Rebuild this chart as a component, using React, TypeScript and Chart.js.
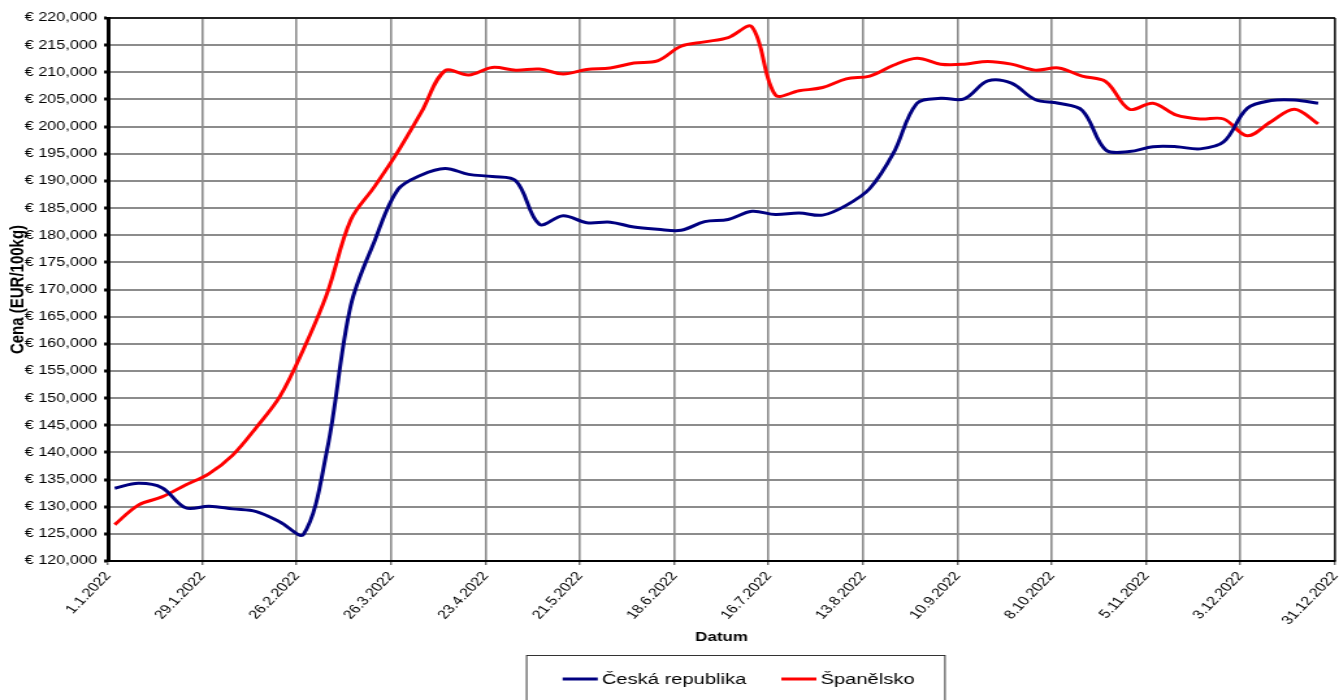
import React, { useEffect, useRef } from 'react';
import { Chart, registerables } from 'chart.js';

Chart.register(...registerables);

// Weekly dates (Mondays) of the observations
const weekDates = [
  '3.1.2022', '10.1.2022', '17.1.2022', '24.1.2022', '31.1.2022',
  '7.2.2022', '14.2.2022', '21.2.2022', '28.2.2022',
  '7.3.2022', '14.3.2022', '21.3.2022', '28.3.2022',
  '4.4.2022', '11.4.2022', '18.4.2022', '25.4.2022',
  '2.5.2022', '9.5.2022', '16.5.2022', '23.5.2022', '30.5.2022',
  '6.6.2022', '13.6.2022', '20.6.2022', '27.6.2022',
  '4.7.2022', '11.7.2022', '18.7.2022', '25.7.2022',
  '1.8.2022', '8.8.2022', '15.8.2022', '22.8.2022', '29.8.2022',
  '5.9.2022', '12.9.2022', '19.9.2022', '26.9.2022',
  '3.10.2022', '10.10.2022', '17.10.2022', '24.10.2022', '31.10.2022',
  '7.11.2022', '14.11.2022', '21.11.2022', '28.11.2022',
  '5.12.2022', '12.12.2022', '19.12.2022', '26.12.2022',
];

// Česká republika (EUR/100kg)
const czValues = [
  133400, 134300, 133500, 129800, 130100, 129600, 129100, 127200, 124900,
  140500, 167000, 178800, 188400, 191100, 192300, 191200, 190800, 190000,
  182000, 183600, 182300, 182400, 181500, 181100, 180900, 182500, 182900,
  184400, 183800, 184100, 183700, 185500, 188600, 195100, 204300, 205200,
  205100, 208400, 208000, 205000, 204300, 203000, 195700, 195400, 196300,
  196300, 195900, 197200, 203400, 204800, 204900, 204300,
];

// Španělsko (EUR/100kg)
const esValues = [
  126700, 130300, 131800, 134000, 136100, 139500, 144600, 150300, 159000,
  169300, 182800, 188900, 195400, 202700, 210300, 209500, 210900, 210400,
  210600, 209700, 210500, 210800, 211700, 212100, 214800, 215600, 216400,
  218400, 205800, 206600, 207200, 208800, 209300, 211300, 212600, 211500,
  211500, 212000, 211500, 210400, 210800, 209300, 208300, 203200, 204300,
  202100, 201400, 201400, 198300, 200900, 203200, 200500,
];

const seriesLabels = ['Česká republika', 'Španělsko'];
const seriesColors = ['#000080', '#ff0000'];

const xTickLabels = [
  '1.1.2022', '29.1.2022', '26.2.2022', '26.3.2022', '23.4.2022', '21.5.2022',
  '18.6.2022', '16.7.2022', '13.8.2022', '10.9.2022', '8.10.2022', '5.11.2022',
  '3.12.2022', '31.12.2022',
];
const xTickStepDays = 28;

const yMin = 120000;
const yMax = 220000;
const yStep = 5000;

const xTitle = 'Datum';
const yTitle = 'Cena (EUR/100kg)';

const FONT = '"Liberation Sans", Arial, sans-serif';
const CANVAS_W = 1030;
const CANVAS_H = 700;
const STRETCH = 1339 / CANVAS_W;

function dayOfYear(s: string): number {
  const [d, m, y] = s.split('.').map(Number);
  return Math.round((Date.UTC(y, m - 1, d) - Date.UTC(y, 0, 1)) / 86400000);
}

const framePlugin = {
  id: 'frameLines',
  afterDatasetsDraw(chart: any) {
    const { ctx, chartArea } = chart;
    const { left, top, right, bottom } = chartArea;
    ctx.save();
    ctx.strokeStyle = '#000';
    ctx.lineWidth = 1.5;
    ctx.beginPath();
    ctx.moveTo(left, top);
    ctx.lineTo(right, top);
    ctx.stroke();
    ctx.lineWidth = 1.2;
    ctx.beginPath();
    ctx.moveTo(right, top);
    ctx.lineTo(right, bottom);
    ctx.stroke();
    ctx.restore();
  },
};

const boxLegendPlugin = {
  id: 'boxLegend',
  afterDraw(chart: any) {
    const ctx = chart.ctx;
    ctx.save();
    ctx.font = `15.5px ${FONT}`;
    const lineLen = 27;
    const gapText = 3.1;
    const gapItem = 27;
    const padL = 27.7;
    const padR = 23.4;
    const items = chart.data.datasets.map((ds: any) => ({
      text: ds.label as string,
      color: ds.borderColor as string,
      w: ctx.measureText(ds.label).width,
    }));
    let total = 0;
    items.forEach((it: any, i: number) => {
      total += (i > 0 ? gapItem : 0) + lineLen + gapText + it.w;
    });
    const centerX = 566;
    const boxLeft = centerX - (total + padL + padR) / 2;
    const boxRight = boxLeft + total + padL + padR;
    const boxTop = 655.5;
    const midY = 679;

    ctx.strokeStyle = '#333';
    ctx.lineWidth = 1;
    ctx.strokeRect(boxLeft, boxTop, boxRight - boxLeft, 60);

    let x = boxLeft + padL;
    items.forEach((it: any, i: number) => {
      if (i > 0) x += gapItem;
      ctx.strokeStyle = it.color;
      ctx.lineWidth = 3;
      ctx.beginPath();
      ctx.moveTo(x, midY);
      ctx.lineTo(x + lineLen, midY);
      ctx.stroke();
      x += lineLen + gapText;
      ctx.fillStyle = '#000';
      ctx.textAlign = 'left';
      ctx.textBaseline = 'middle';
      ctx.fillText(it.text, x, midY + 1);
      x += it.w;
    });
    ctx.restore();
  },
};

export default function App() {
  const canvasRef = useRef<HTMLCanvasElement | null>(null);

  useEffect(() => {
    const canvas = canvasRef.current;
    if (!canvas) return;
    const xs = weekDates.map(dayOfYear);
    const chart = new Chart(canvas, {
      type: 'line',
      data: {
        datasets: [
          {
            label: seriesLabels[0],
            data: xs.map((x, i) => ({ x, y: czValues[i] })),
            borderColor: seriesColors[0],
            backgroundColor: seriesColors[0],
            borderWidth: 3,
            pointRadius: 0,
            tension: 0.35,
            fill: false,
          },
          {
            label: seriesLabels[1],
            data: xs.map((x, i) => ({ x, y: esValues[i] })),
            borderColor: seriesColors[1],
            backgroundColor: seriesColors[1],
            borderWidth: 3,
            pointRadius: 0,
            tension: 0.35,
            fill: false,
          },
        ],
      },
      options: {
        responsive: false,
        animation: false,
        devicePixelRatio: 1,
        layout: { padding: { left: 0, top: 18, right: 3.1, bottom: 55 } },
        plugins: {
          legend: { display: false },
          tooltip: { enabled: false },
          title: { display: false },
        },
        scales: {
          x: {
            type: 'linear',
            min: 0,
            max: (xTickLabels.length - 1) * xTickStepDays,
            ticks: {
              stepSize: xTickStepDays,
              autoSkip: false,
              maxRotation: 52.4,
              minRotation: 52.4,
              padding: 4,
              color: '#000',
              font: { family: FONT, size: 12.5 },
              callback: (v: any) => xTickLabels[Math.round(Number(v) / xTickStepDays)] ?? '',
            },
            grid: {
              color: '#8c8c8c',
              lineWidth: 1.6,
              drawTicks: true,
              tickLength: 4,
              tickColor: '#333',
              tickWidth: 1,
            },
            border: { display: true, color: '#000', width: 2 },
            title: {
              display: true,
              text: xTitle,
              color: '#000',
              font: { family: FONT, size: 13, weight: 'bold' },
              padding: { top: 0, bottom: 0 },
            },
            afterFit: (s: any) => {
              s.height = 84;
              s.paddingLeft = 0;
              s.paddingRight = 0;
            },
          },
          y: {
            type: 'linear',
            min: yMin,
            max: yMax,
            ticks: {
              stepSize: yStep,
              padding: 5.5,
              color: '#000',
              font: { family: FONT, size: 12.5 },
              callback: (v: any) => '€ ' + Number(v).toLocaleString('en-US'),
            },
            grid: {
              color: '#8c8c8c',
              lineWidth: 2,
              drawTicks: true,
              tickLength: 3,
              tickColor: '#000',
              tickWidth: 3,
            },
            border: { display: true, color: '#000', width: 3 },
            title: {
              display: true,
              text: yTitle,
              color: '#000',
              font: { family: FONT, size: 15, weight: 'bold' },
              padding: { top: 5, bottom: 0 },
            },
            afterFit: (s: any) => {
              s.width = 108 / STRETCH;
            },
          },
        },
      } as any,
      plugins: [framePlugin, boxLegendPlugin],
    });
    return () => chart.destroy();
  }, []);

  return (
    <div
      style={{
        position: 'fixed',
        left: 0,
        top: 0,
        width: 1339,
        height: 700,
        overflow: 'hidden',
        background: '#fff',
      }}
    >
      <canvas
        ref={canvasRef}
        width={CANVAS_W}
        height={CANVAS_H}
        style={{ transform: `scaleX(${STRETCH})`, transformOrigin: '0 0' }}
      />
    </div>
  );
}
